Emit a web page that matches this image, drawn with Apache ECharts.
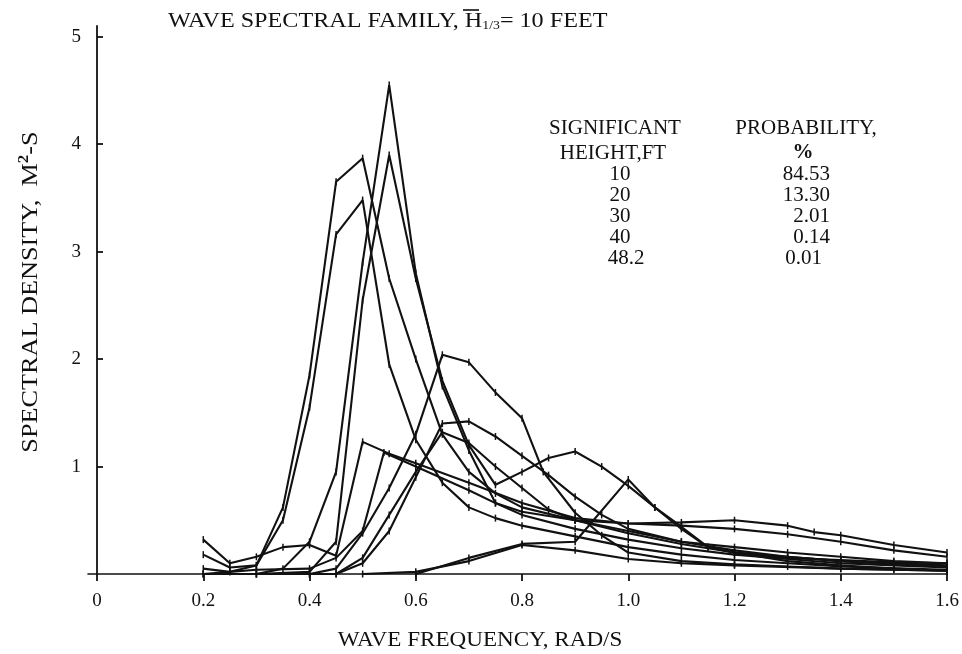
<!DOCTYPE html>
<html>
<head>
<meta charset="utf-8">
<script src="https://cdn.jsdelivr.net/npm/echarts@6/dist/echarts.min.js"></script>
<style>
  html, body { margin: 0; padding: 0; background: #fff; }
  #chart { width: 962px; height: 654px; }
</style>
</head>
<body>
<div id="chart"></div>
<script>
// Frequency ticks (rad/s) and density ticks (m^2-s)
const freqTicks = [0, 0.2, 0.4, 0.6, 0.8, 1.0, 1.2, 1.4, 1.6];
const densTicks = [1, 2, 3, 4, 5];

// Spectral family members: frequency (rad/s) and spectral density (m^2-s)
const freqA = [0.2, 0.3, 0.35, 0.4, 0.45, 0.5, 0.55, 0.6, 0.65, 0.7, 0.75, 0.8, 0.9, 1.0, 1.1, 1.2, 1.3, 1.4, 1.5, 1.6];
const densA = [0.0, 0.0, 0.05, 0.3, 0.95, 2.9, 4.55, 2.8, 1.75, 1.15, 0.66, 0.55, 0.42, 0.32, 0.24, 0.18, 0.14, 0.1, 0.08, 0.06];

const freqB = [0.2, 0.3, 0.4, 0.45, 0.5, 0.55, 0.6, 0.65, 0.7, 0.75, 0.8, 0.85, 0.9, 0.95, 1.0, 1.05, 1.1, 1.15, 1.2, 1.3, 1.4, 1.5, 1.6];
const densB = [0.0, 0.0, 0.02, 0.3, 2.55, 3.9, 2.75, 1.8, 1.2, 0.83, 0.95, 1.08, 1.14, 1.0, 0.82, 0.62, 0.44, 0.25, 0.2, 0.15, 0.13, 0.11, 0.1];

const freqC = [0.2, 0.25, 0.3, 0.35, 0.4, 0.45, 0.5, 0.55, 0.6, 0.65, 0.7, 0.75, 0.8, 0.9, 1.0, 1.1, 1.2, 1.4, 1.6];
const densC = [0.18, 0.06, 0.08, 0.62, 1.85, 3.65, 3.87, 2.75, 2.0, 1.3, 0.95, 0.75, 0.62, 0.5, 0.38, 0.28, 0.2, 0.12, 0.08];

const freqD = [0.2, 0.25, 0.3, 0.35, 0.4, 0.45, 0.5, 0.55, 0.6, 0.65, 0.7, 0.75, 0.8, 0.9, 1.0, 1.1, 1.2, 1.4, 1.6];
const densD = [0.0, 0.02, 0.08, 0.5, 1.55, 3.16, 3.48, 1.95, 1.25, 0.85, 0.62, 0.52, 0.45, 0.35, 0.25, 0.18, 0.13, 0.07, 0.04];

const freqE = [0.3, 0.4, 0.45, 0.5, 0.55, 0.6, 0.65, 0.7, 0.75, 0.8, 0.84, 0.9, 0.95, 1.0, 1.1, 1.2, 1.3, 1.4, 1.5, 1.6];
const densE = [0.0, 0.0, 0.05, 0.38, 0.8, 1.3, 2.04, 1.97, 1.69, 1.45, 0.95, 0.57, 0.36, 0.2, 0.12, 0.09, 0.07, 0.05, 0.04, 0.03];

const freqF = [0.4, 0.45, 0.5, 0.55, 0.6, 0.65, 0.7, 0.75, 0.8, 0.85, 0.9, 0.95, 1.0, 1.1, 1.2, 1.3, 1.4, 1.5, 1.6];
const densF = [0.0, 0.0, 0.1, 0.4, 0.9, 1.4, 1.42, 1.28, 1.1, 0.92, 0.72, 0.55, 0.42, 0.3, 0.25, 0.2, 0.16, 0.12, 0.1];

const freqG = [0.45, 0.5, 0.55, 0.6, 0.65, 0.7, 0.75, 0.8, 0.85, 0.9, 1.0, 1.1, 1.2, 1.3, 1.4, 1.5, 1.6];
const densG = [0.0, 0.15, 0.55, 0.95, 1.32, 1.22, 1.0, 0.8, 0.6, 0.5, 0.4, 0.3, 0.22, 0.16, 0.12, 0.09, 0.07];

const freqH = [0.2, 0.25, 0.3, 0.35, 0.4, 0.45, 0.5, 0.55, 0.6, 0.7, 0.8, 0.9, 1.0, 1.1, 1.2, 1.3, 1.4, 1.5, 1.6];
const densH = [0.32, 0.1, 0.16, 0.25, 0.27, 0.17, 1.23, 1.12, 1.03, 0.85, 0.66, 0.52, 0.47, 0.45, 0.42, 0.37, 0.3, 0.22, 0.16];

const freqI = [0.2, 0.25, 0.3, 0.4, 0.45, 0.5, 0.54, 0.6, 0.7, 0.75, 0.8, 0.9, 1.0, 1.1, 1.2, 1.3, 1.35, 1.4, 1.5, 1.6];
const densI = [0.05, 0.02, 0.04, 0.05, 0.15, 0.4, 1.13, 1.0, 0.78, 0.66, 0.58, 0.5, 0.47, 0.48, 0.5, 0.45, 0.39, 0.36, 0.27, 0.2];

const freqJ = [0.6, 0.7, 0.8, 0.9, 1.0, 1.05, 1.1, 1.15, 1.2, 1.3, 1.4, 1.5, 1.6];
const densJ = [0.0, 0.15, 0.28, 0.3, 0.88, 0.62, 0.42, 0.25, 0.2, 0.12, 0.08, 0.05, 0.03];

const freqK = [0.5, 0.6, 0.7, 0.8, 0.9, 1.0, 1.1, 1.2, 1.4, 1.6];
const densK = [0.0, 0.02, 0.12, 0.27, 0.22, 0.14, 0.1, 0.08, 0.05, 0.03];

// Occurrence table
const heightRows = ['10', '20', '30', '40', '48.2'];
const probRows = ['84.53', '13.30', '2.01', '0.14', '0.01'];

const family = [
  [freqA, densA], [freqB, densB], [freqC, densC], [freqD, densD],
  [freqE, densE], [freqF, densF], [freqG, densG], [freqH, densH],
  [freqI, densI], [freqJ, densJ], [freqK, densK]
];

const INK = '#111';
const SERIF = '"Liberation Serif", "Times New Roman", serif';

const chart = echarts.init(document.getElementById('chart'), null, { renderer: 'canvas' });

const series = family.map(([f, d], k) => ({
  type: 'line',
  name: 'S' + (k + 1),
  data: f.map((w, i) => [w, d[i]]),
  smooth: false,
  symbol: 'rect',
  symbolSize: [1.5, 7],
  itemStyle: { color: INK },
  lineStyle: { color: INK, width: 2.1 },
  emphasis: { disabled: true },
  z: 3
}));

// Table text built from the rows above
const cell = (x, y, text, align, bold) => ({
  type: 'text', x: x, y: y,
  style: { text: text, font: (bold ? 'bold ' : '') + '21px ' + SERIF, fill: INK, align: align, verticalAlign: 'middle' }
});
const tableTexts = [
  cell(615, 128, 'SIGNIFICANT', 'center'),
  cell(613, 153, 'HEIGHT,FT', 'center'),
  cell(806, 128, 'PROBABILITY,', 'center'),
  cell(803, 153, '%', 'center', true)
];
heightRows.forEach((t, i) => tableTexts.push(cell(t.length > 2 ? 626 : 620, 174 + i * 21, t, 'center')));
probRows.forEach((t, i) => tableTexts.push(cell(i === 4 ? 822 : 830, 174 + i * 21, t, 'right')));

const option = {
  animation: false,
  backgroundColor: '#fff',
  grid: { left: 88, right: 15, top: 26, bottom: 80, containLabel: false },
  xAxis: {
    type: 'value',
    min: -0.017,
    max: 1.6,
    splitLine: { show: false },
    axisLine: { show: true, onZero: true, lineStyle: { color: INK, width: 1.6 } },
    axisTick: { show: true, customValues: freqTicks, length: 7, lineStyle: { color: INK, width: 1.8 } },
    axisLabel: {
      customValues: freqTicks,
      margin: 18,
      color: INK,
      fontFamily: SERIF,
      fontSize: 19,
      formatter: v => (v === 0 ? '0' : v.toFixed(1))
    }
  },
  yAxis: {
    type: 'value',
    min: 0,
    max: 5.1,
    splitLine: { show: false },
    axisLine: { show: true, onZero: true, lineStyle: { color: INK, width: 1.8 } },
    axisTick: { show: true, inside: true, customValues: densTicks, length: 6, lineStyle: { color: INK, width: 1.8 } },
    axisLabel: {
      customValues: densTicks,
      margin: 7,
      color: INK,
      fontFamily: SERIF,
      fontSize: 19
    }
  },
  graphic: [
    {
      type: 'text', x: 168, y: 21, scaleX: 1.15,
      style: {
        text: 'WAVE SPECTRAL FAMILY, {h|H}{s|1/3}{e|= 10 FEET}',
        font: '21px ' + SERIF, fill: INK, verticalAlign: 'middle',
        rich: {
          h: { font: '21px ' + SERIF, fill: INK },
          s: { font: '12px ' + SERIF, fill: INK, verticalAlign: 'bottom', padding: [10, 0, 0, 0] },
          e: { font: '21px ' + SERIF, fill: INK }
        }
      }
    },
    // bar over the H of the title
    { type: 'line', shape: { x1: 463, y1: 10, x2: 479, y2: 10 }, style: { stroke: INK, lineWidth: 1.6 } },
    {
      type: 'text', x: 31, y: 292, rotation: Math.PI / 2, scaleX: 1.14,
      style: {
        text: 'SPECTRAL DENSITY,  M{sup|2}-S',
        font: '23px ' + SERIF, fill: INK, align: 'center', verticalAlign: 'middle',
        rich: {
          sup: { font: 'bold 15px ' + SERIF, fill: INK, verticalAlign: 'top', padding: [0, 0, 14, 0] }
        }
      }
    },
    {
      type: 'text', x: 480, y: 640, scaleX: 1.1,
      style: { text: 'WAVE FREQUENCY, RAD/S', font: '21px ' + SERIF, fill: INK, align: 'center', verticalAlign: 'middle' }
    }
  ].concat(tableTexts),
  series: series
};

chart.setOption(option);
</script>
</body>
</html>
